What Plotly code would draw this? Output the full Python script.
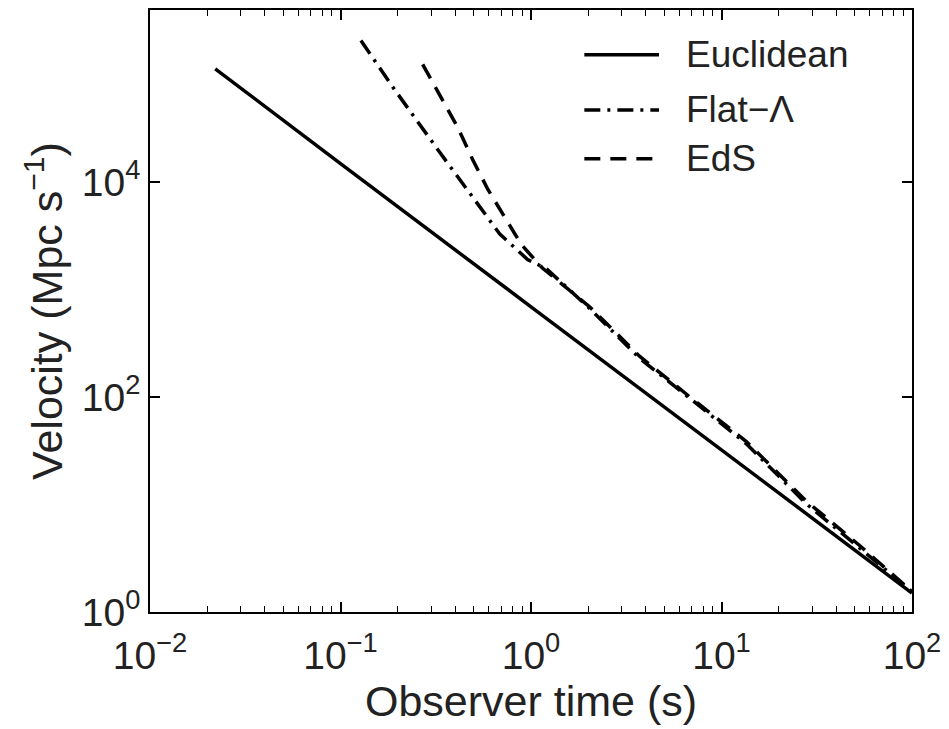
import plotly.graph_objects as go

# ---- data ----
t_euclid = [0.022, 0.1, 1, 10, 100]
v_euclid = [1.13e5, 1.48e4, 690, 32, 1.5]

t_flat = [0.128, 0.192, 0.331, 0.585, 0.684, 0.959, 1.205, 2.03, 3.71, 6.78, 13.5, 27.8, 52.7, 100]
v_flat = [2.07e5, 7.26e4, 1.90e4, 4740, 3300, 1900, 1560, 667, 230, 98, 36.7, 10.2, 4.0, 1.55]

t_eds = [0.27, 0.331, 0.412, 0.493, 0.592, 0.726, 0.891, 1.148, 2.03, 3.71, 6.78, 13.5, 27.8, 52.7, 100]
v_eds = [1.24e5, 6.4e4, 3.23e4, 1.63e4, 8610, 4740, 2610, 1585, 690, 240, 101, 38.5, 10.8, 4.2, 1.55]

series_names = ["Euclidean", "Flat\u2212\u039b", "EdS"]
series_dash = ["solid", "16px,7px,3px,7px", "16px,10px"]

x_tickvals = [0.01, 0.1, 1, 10, 100]
x_ticktext = ["10<sup>\u22122</sup>", "10<sup>\u22121</sup>", "10<sup>0</sup>", "10<sup>1</sup>", "10<sup>2</sup>"]
y_tickvals = [1, 100, 10000]
y_ticktext = ["10<sup>0</sup>", "10<sup>2</sup>", "10<sup>4</sup>"]
x_minor = [m * 10 ** e for e in (-2, -1, 0, 1) for m in range(2, 10)]

FONT = "Liberation Sans, Arial, sans-serif"
TXT = "#222"
LW = 3.5

fig = go.Figure()
for t, v, name, dash in zip([t_euclid, t_flat, t_eds], [v_euclid, v_flat, v_eds], series_names, series_dash):
    fig.add_trace(go.Scatter(x=t, y=v, mode="lines", name=name,
                             line=dict(color="black", width=LW, dash=dash), showlegend=False))
# invisible trace to carry the top (mirror) axis with minor ticks
fig.add_trace(go.Scatter(x=[t_euclid[0]], y=[v_euclid[0]], xaxis="x2", mode="markers",
                         marker=dict(opacity=0), hoverinfo="skip", showlegend=False))

# legend drawn manually (long line samples like the reference)
leg_y = [0.9255, 0.834, 0.753]
for name, dash, yy in zip(series_names, series_dash, leg_y):
    fig.add_shape(type="line", xref="paper", yref="paper", x0=0.570, x1=0.668, y0=yy, y1=yy,
                  line=dict(color="black", width=LW, dash=dash))
    fig.add_annotation(xref="paper", yref="paper", x=0.701, y=yy, text=name, showarrow=False,
                       xanchor="left", yanchor="middle", font=dict(family=FONT, size=37, color=TXT))

axis_common = dict(showline=True, linecolor="black", linewidth=1.5,
                   ticks="inside", ticklen=10, tickwidth=1.5, tickcolor="black",
                   showgrid=False, zeroline=False,
                   tickfont=dict(family=FONT, size=39, color=TXT))
minor_x = dict(tickvals=x_minor, ticks="inside", ticklen=6, tickwidth=1.2, tickcolor="black")

fig.update_layout(
    xaxis=dict(type="log", range=[-2, 2], tickvals=x_tickvals, ticktext=x_ticktext,
               minor=minor_x, ticklabelstandoff=8, mirror=True,
               title=dict(text="Observer time (s)", font=dict(family=FONT, size=43, color=TXT), standoff=2),
               **axis_common),
    xaxis2=dict(type="log", range=[-2, 2], overlaying="x", side="top", anchor="y",
                tickvals=x_tickvals, showticklabels=False, minor=minor_x, **axis_common),
    yaxis=dict(type="log", range=[0, 5.6], tickvals=y_tickvals, ticktext=y_ticktext, mirror="ticks",
               title=dict(text="Velocity (Mpc s<sup>\u22121</sup>)", font=dict(family=FONT, size=43, color=TXT), standoff=6),
               **axis_common),
    width=949, height=729, margin=dict(l=150, r=36, t=8, b=117),
    plot_bgcolor="white", paper_bgcolor="white", showlegend=False)

fig.write_html("out.html")
